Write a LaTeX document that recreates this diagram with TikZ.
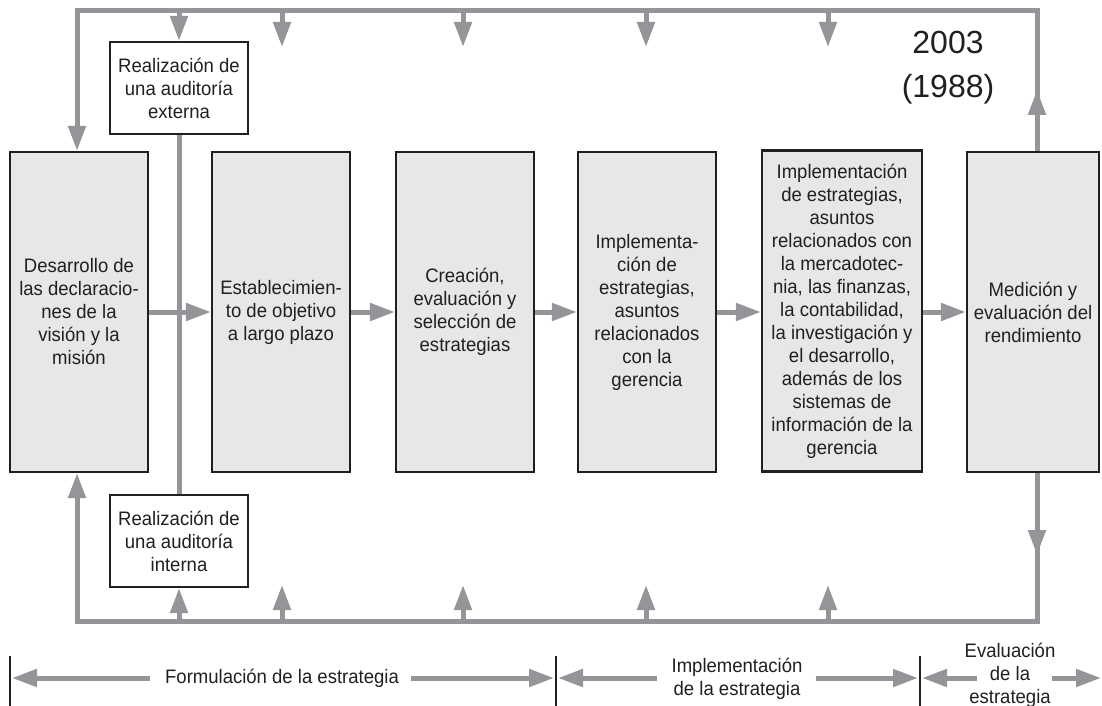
\documentclass[tikz,border=0pt]{standalone}
\usepackage{fontspec}
\setmainfont{Liberation Sans}
\newfontfamily\condfont{Liberation Sans}[FakeStretch=0.95]
\usetikzlibrary{arrows.meta}
\definecolor{lgray}{HTML}{939598}
\definecolor{boxfill}{HTML}{E6E7E8}
\definecolor{ink}{HTML}{231F20}
\newcommand\diagfont{\condfont\fontsize{19.5pt}{23pt}\selectfont}
\newcommand\yearfont{\fontsize{32pt}{44pt}\selectfont}
\begin{document}
\begin{tikzpicture}[x=1pt,y=-1pt,
  conn/.style={draw=lgray, line width=5pt, -{Triangle[length=25pt,width=17pt]}},
  gline/.style={draw=lgray, line width=5pt},
  stage/.style={draw=ink, line width=2.2pt, fill=boxfill, minimum width=138pt, minimum height=320pt, inner sep=0pt, align=center, font=\diagfont, text=ink},
  audit/.style={draw=ink, line width=2.2pt, fill=white, minimum width=138pt, minimum height=92pt, inner sep=0pt, align=center, font=\diagfont, text=ink},
  tlabel/.style={align=center, font=\diagfont, text=ink, inner sep=0pt},
  septick/.style={draw=ink, line width=2pt}]
\useasboundingbox (0,0) rectangle (1102,706);

% stage boxes
\node[stage] (s1) at (79,312) {Desarrollo de\\las declaracio-\\nes de la\\visión y la\\misión};
\node[stage] (s2) at (281,312) {Establecimien-\\to de objetivo\\a largo plazo};
\node[stage] (s3) at (465,312) {Creación,\\evaluación y\\selección de\\estrategias};
\node[stage] (s4) at (647,312) {Implementa-\\ción de\\estrategias,\\asuntos\\relacionados\\con la\\gerencia};
\node[stage, minimum width=160pt, minimum height=321pt] (s5) at (842,311) {Implementación\\de estrategias,\\asuntos\\relacionados con\\la mercadotec-\\nia, las finanzas,\\la contabilidad,\\la investigación y\\el desarrollo,\\además de los\\sistemas de\\información de la\\gerencia};
\node[stage, minimum width=132pt] (s6) at (1033,312) {Medición y\\evaluación del\\rendimiento};

% audit boxes
\node[audit] (ext) at (179,88) {Realización de\\una auditoría\\externa};
\node[audit] (int) at (179,541) {Realización de\\una auditoría\\interna};

% year
\node[font=\yearfont, text=ink, align=center, inner sep=0pt] (yr) at (948,68) {2003\\(1988)};

% frame corners
\coordinate (tl) at (77,11);
\coordinate (tr) at (1037,11);
\coordinate (bl) at (77,621);
\coordinate (br) at (1037,621);
\coordinate (upmid) at (1037,90);
\coordinate (downmid) at (1037,555);

% feedback frame
\draw[conn] (s6.north -| tr) -- (tr) -- (tl) -- (tl |- s1.north);
\draw[conn] (s6.north -| tr) -- (upmid);
\draw[conn] (s6.south -| br) -- (br) -- (bl) -- (bl |- s1.south);
\draw[conn] (s6.south -| br) -- (downmid);

% audit links
\draw[conn] (ext.north |- tl) -- (ext.north);
\draw[conn] (int.south |- bl) -- (int.south);
\draw[gline] (ext.south) -- (int.north);

% free arrows top and bottom
\foreach \xx/\nm in {282/a,463/b,646/c,828/d}{
  \coordinate (top\nm) at (\xx,11);
  \coordinate (topend\nm) at (\xx,47);
  \coordinate (bot\nm) at (\xx,621);
  \coordinate (botend\nm) at (\xx,585);
  \draw[conn] (top\nm) -- (topend\nm);
  \draw[conn] (bot\nm) -- (botend\nm);
}

% main flow
\draw[conn] (s1.east) -- (s2.west);
\draw[conn] (s2.east) -- (s3.west);
\draw[conn] (s3.east) -- (s4.west);
\draw[conn] (s4.east) -- (s4.east -| s5.west);
\draw[conn] (s5.east |- s6.west) -- (s6.west);

% timeline
\coordinate (k0) at (10,678);
\coordinate (k1) at (556,678);
\coordinate (k2) at (920,678);
\coordinate (kend) at (1101,678);
\draw[septick] ([yshift=-30pt]k0) -- ([yshift=22pt]k0);
\draw[septick] ([yshift=-30pt]k1) -- ([yshift=22pt]k1);
\draw[septick] ([yshift=-30pt]k2) -- ([yshift=22pt]k2);

\node[tlabel] (form) at (282,678) {Formulación de la estrategia};
\node[tlabel] (impl) at (737,679) {Implementación\\de la estrategia};
\node[tlabel] (eval) at (1010,675) {Evaluación\\de la\\estrategia};

\draw[conn] ([xshift=-15pt]form.west) -- ([xshift=2pt]k0);
\draw[conn] ([xshift=12pt]form.east) -- ([xshift=-2pt]k1);
\draw[conn] ([xshift=-14pt]impl.west |- k1) -- ([xshift=2pt]k1);
\draw[conn] ([xshift=13pt]impl.east |- k1) -- ([xshift=-2pt]k2);
\draw[conn] ([xshift=-33pt]eval.center |- k2) -- ([xshift=2pt]k2);
\draw[conn] ([xshift=42pt]eval.center |- k2) -- (kend);
\end{tikzpicture}
\end{document}
